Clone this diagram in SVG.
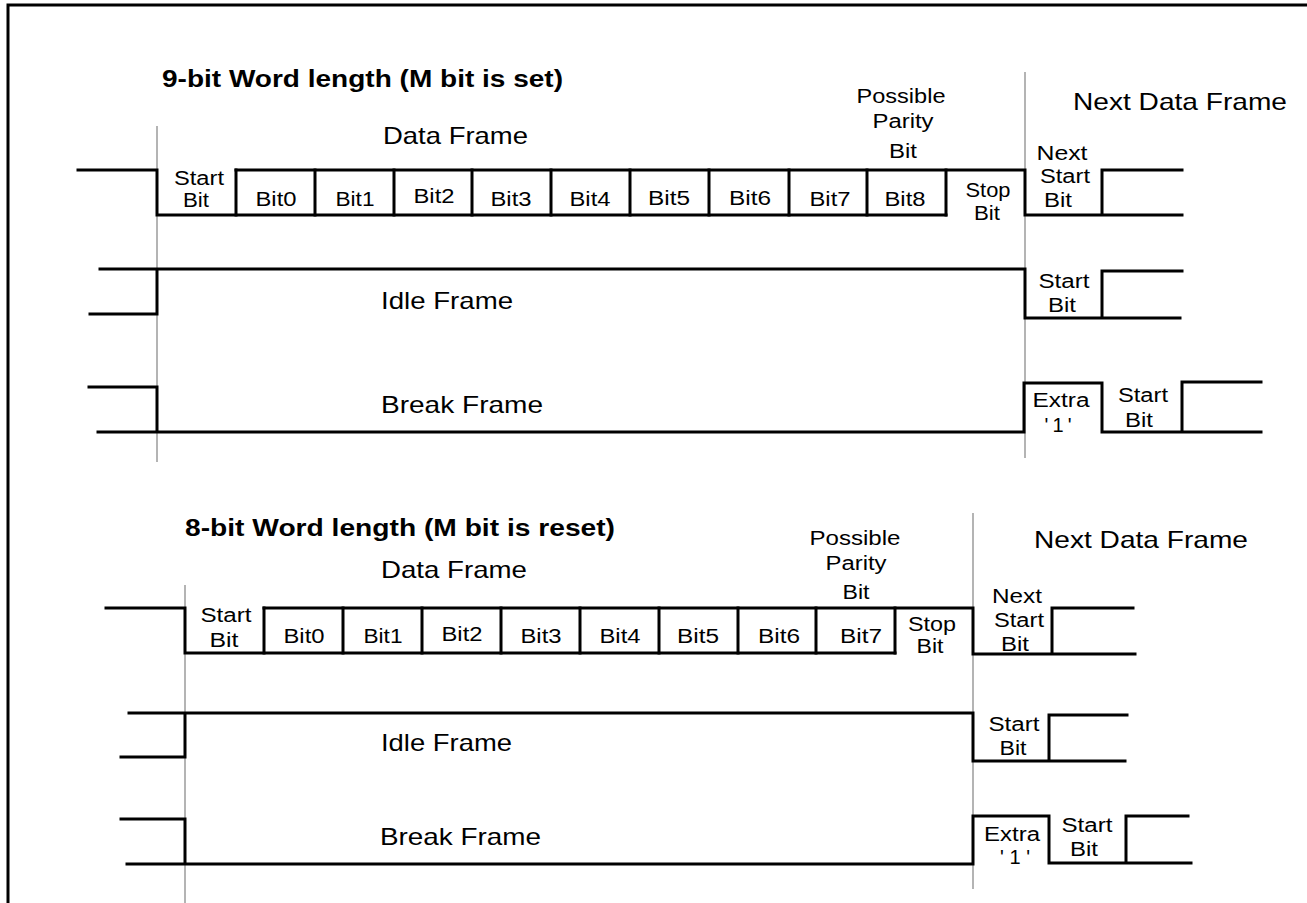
<svg xmlns="http://www.w3.org/2000/svg" width="1307" height="903" viewBox="0 0 1307 903">
<style>
.sig{fill:none;stroke:#000;stroke-width:3;stroke-linecap:square}
.grid{fill:none;stroke:#b4b4b4;stroke-width:2}
.border{fill:none;stroke:#000;stroke-width:3}
text{font-family:"Liberation Sans",Arial,sans-serif;fill:#000}
.t{font-size:20px;text-anchor:middle}
.big{font-size:24px}
.title{font-size:23px;font-weight:bold}
</style>
<rect width="1307" height="903" fill="#fff"/>
<path class="border" d="M8,903 V5 H1307"/>

<g id="guides">
<line class="grid" x1="157" y1="126" x2="157" y2="462"/>
<line class="grid" x1="1025" y1="72" x2="1025" y2="458"/>
<line class="grid" x1="185" y1="585" x2="185" y2="903"/>
<line class="grid" x1="973" y1="513" x2="973" y2="889"/>
</g>

<g id="section-9bit">
<text id="title-9bit" class="title" x="162" y="87" textLength="401" lengthAdjust="spacingAndGlyphs">9-bit Word length (M bit is set)</text>

<g id="data-frame-9bit">
<text class="big" x="383" y="144" textLength="145" lengthAdjust="spacingAndGlyphs">Data Frame</text>
<path class="sig" d="M78,170 H157 V215 H946 M236,170 H1025 V215 H1182 M1102,215 V170 H1182"/>
<path class="sig" d="M236,170 V215 M315,170 V215 M394,170 V215 M472,170 V215 M551,170 V215 M630,170 V215 M709,170 V215 M789,170 V215 M867,170 V215 M946,170 V215"/>
<text class="t" x="199" y="185" textLength="50" lengthAdjust="spacingAndGlyphs">Start</text>
<text class="t" x="196" y="207" textLength="26" lengthAdjust="spacingAndGlyphs">Bit</text>
<text class="t" x="276" y="206" textLength="41" lengthAdjust="spacingAndGlyphs">Bit0</text>
<text class="t" x="355" y="206" textLength="39" lengthAdjust="spacingAndGlyphs">Bit1</text>
<text class="t" x="434" y="203" textLength="41" lengthAdjust="spacingAndGlyphs">Bit2</text>
<text class="t" x="511" y="206" textLength="41" lengthAdjust="spacingAndGlyphs">Bit3</text>
<text class="t" x="590" y="206" textLength="41" lengthAdjust="spacingAndGlyphs">Bit4</text>
<text class="t" x="669" y="205" textLength="42" lengthAdjust="spacingAndGlyphs">Bit5</text>
<text class="t" x="750" y="205" textLength="42" lengthAdjust="spacingAndGlyphs">Bit6</text>
<text class="t" x="830" y="206" textLength="41" lengthAdjust="spacingAndGlyphs">Bit7</text>
<text class="t" x="905" y="206" textLength="41" lengthAdjust="spacingAndGlyphs">Bit8</text>
<text class="t" x="988" y="197" textLength="45" lengthAdjust="spacingAndGlyphs">Stop</text>
<text class="t" x="987" y="220" textLength="26" lengthAdjust="spacingAndGlyphs">Bit</text>
<text class="t" x="901" y="103" textLength="89" lengthAdjust="spacingAndGlyphs">Possible</text>
<text class="t" x="903" y="128" textLength="61" lengthAdjust="spacingAndGlyphs">Parity</text>
<text class="t" x="903" y="158" textLength="28" lengthAdjust="spacingAndGlyphs">Bit</text>
<text class="big" x="1073" y="110" textLength="214" lengthAdjust="spacingAndGlyphs">Next Data Frame</text>
<text class="t" x="1062" y="160" textLength="51" lengthAdjust="spacingAndGlyphs">Next</text>
<text class="t" x="1065" y="183" textLength="50" lengthAdjust="spacingAndGlyphs">Start</text>
<text class="t" x="1058" y="207" textLength="28" lengthAdjust="spacingAndGlyphs">Bit</text>
</g>

<g id="idle-frame-9bit">
<path class="sig" d="M100,269 H1025 V318 H1180 M90,314 H157 V269 M1102,318 V271 H1182"/>
<text class="big" x="381" y="309" textLength="132" lengthAdjust="spacingAndGlyphs">Idle Frame</text>
<text class="t" x="1064" y="288" textLength="51" lengthAdjust="spacingAndGlyphs">Start</text>
<text class="t" x="1062" y="312" textLength="28" lengthAdjust="spacingAndGlyphs">Bit</text>
</g>

<g id="break-frame-9bit">
<path class="sig" d="M89,387 H157 V432 M98,432 H1024 V383 H1102 V432 H1261 M1182,432 V382 H1261"/>
<text class="big" x="381" y="413" textLength="162" lengthAdjust="spacingAndGlyphs">Break Frame</text>
<text class="t" x="1061" y="407" textLength="57" lengthAdjust="spacingAndGlyphs">Extra</text>
<text class="t" x="1058" y="432" textLength="27" lengthAdjust="spacing">'1'</text>
<text class="t" x="1143" y="402" textLength="50" lengthAdjust="spacingAndGlyphs">Start</text>
<text class="t" x="1139" y="427" textLength="28" lengthAdjust="spacingAndGlyphs">Bit</text>
</g>
</g>

<g id="section-8bit">
<text id="title-8bit" class="title" x="185" y="536" textLength="430" lengthAdjust="spacingAndGlyphs">8-bit Word length (M bit is reset)</text>

<g id="data-frame-8bit">
<text class="big" x="381" y="578" textLength="146" lengthAdjust="spacingAndGlyphs">Data Frame</text>
<path class="sig" d="M106,608 H185 V653 H895 M264,608 H973 V654 H1135 M1052,654 V608 H1133"/>
<path class="sig" d="M264,608 V653 M343,608 V653 M422,608 V653 M501,608 V653 M580,608 V653 M659,608 V653 M738,608 V653 M816,608 V653 M895,608 V653"/>
<text class="t" x="226" y="622" textLength="51" lengthAdjust="spacingAndGlyphs">Start</text>
<text class="t" x="224" y="647" textLength="29" lengthAdjust="spacingAndGlyphs">Bit</text>
<text class="t" x="304" y="643" textLength="41" lengthAdjust="spacingAndGlyphs">Bit0</text>
<text class="t" x="383" y="643" textLength="39" lengthAdjust="spacingAndGlyphs">Bit1</text>
<text class="t" x="462" y="641" textLength="41" lengthAdjust="spacingAndGlyphs">Bit2</text>
<text class="t" x="541" y="643" textLength="41" lengthAdjust="spacingAndGlyphs">Bit3</text>
<text class="t" x="620" y="643" textLength="41" lengthAdjust="spacingAndGlyphs">Bit4</text>
<text class="t" x="698" y="643" textLength="42" lengthAdjust="spacingAndGlyphs">Bit5</text>
<text class="t" x="779" y="643" textLength="42" lengthAdjust="spacingAndGlyphs">Bit6</text>
<text class="t" x="861" y="643" textLength="42" lengthAdjust="spacingAndGlyphs">Bit7</text>
<text class="t" x="932" y="631" textLength="48" lengthAdjust="spacingAndGlyphs">Stop</text>
<text class="t" x="930" y="653" textLength="27" lengthAdjust="spacingAndGlyphs">Bit</text>
<text class="t" x="855" y="545" textLength="91" lengthAdjust="spacingAndGlyphs">Possible</text>
<text class="t" x="856" y="570" textLength="61" lengthAdjust="spacingAndGlyphs">Parity</text>
<text class="t" x="856" y="599" textLength="27" lengthAdjust="spacingAndGlyphs">Bit</text>
<text class="big" x="1034" y="548" textLength="214" lengthAdjust="spacingAndGlyphs">Next Data Frame</text>
<text class="t" x="1017" y="603" textLength="50" lengthAdjust="spacingAndGlyphs">Next</text>
<text class="t" x="1019" y="627" textLength="50" lengthAdjust="spacingAndGlyphs">Start</text>
<text class="t" x="1015" y="651" textLength="28" lengthAdjust="spacingAndGlyphs">Bit</text>
</g>

<g id="idle-frame-8bit">
<path class="sig" d="M129,713 H973 V761 H1125 M121,757 H185 V713 M1049,761 V715 H1127"/>
<text class="big" x="381" y="751" textLength="131" lengthAdjust="spacingAndGlyphs">Idle Frame</text>
<text class="t" x="1014" y="731" textLength="51" lengthAdjust="spacingAndGlyphs">Start</text>
<text class="t" x="1013" y="755" textLength="27" lengthAdjust="spacingAndGlyphs">Bit</text>
</g>

<g id="break-frame-8bit">
<path class="sig" d="M121,819 H185 V864 M127,864 H973 V816 H1049 V863 H1191 M1126,863 V816 H1188"/>
<text class="big" x="380" y="845" textLength="161" lengthAdjust="spacingAndGlyphs">Break Frame</text>
<text class="t" x="1012" y="841" textLength="56" lengthAdjust="spacingAndGlyphs">Extra</text>
<text class="t" x="1015" y="864" textLength="30" lengthAdjust="spacing">'1'</text>
<text class="t" x="1087" y="832" textLength="51" lengthAdjust="spacingAndGlyphs">Start</text>
<text class="t" x="1084" y="856" textLength="28" lengthAdjust="spacingAndGlyphs">Bit</text>
</g>
</g>
</svg>
